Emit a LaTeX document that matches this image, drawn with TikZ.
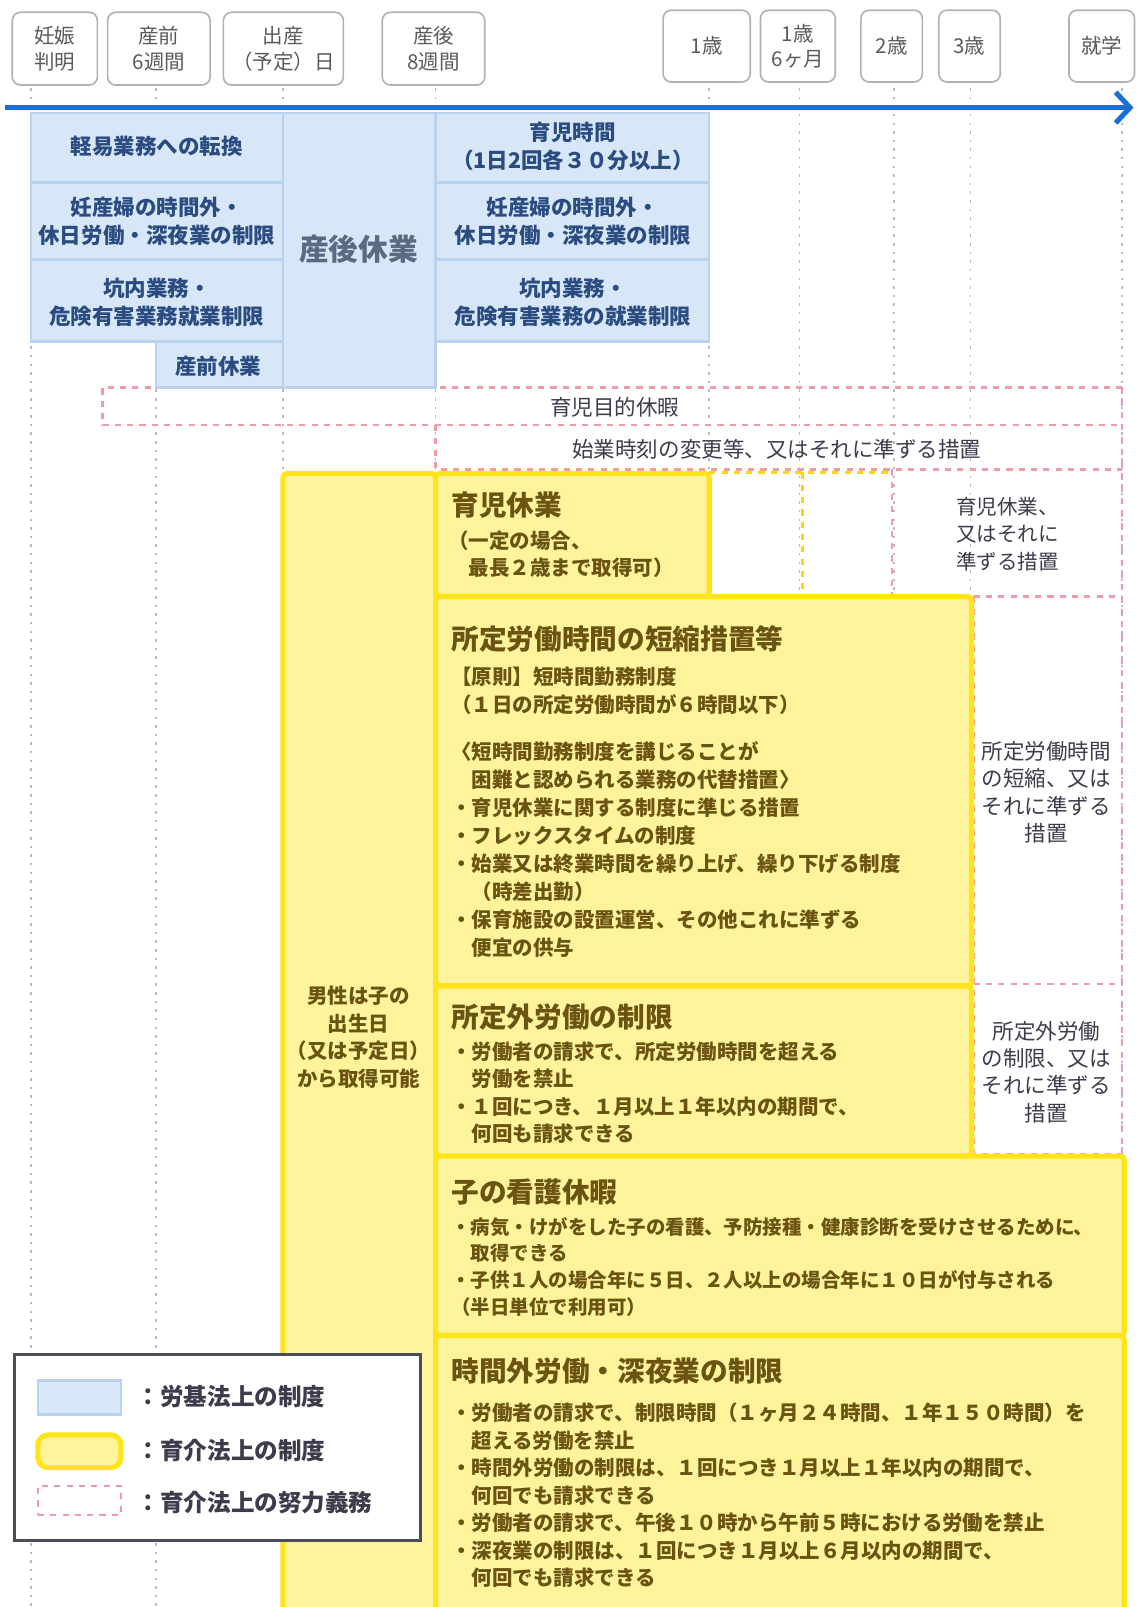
\documentclass[tikz,border=0pt]{standalone}
\usepackage{fontspec}
\setmainfont{Noto Sans CJK JP}
\usetikzlibrary{arrows.meta,fit}
\definecolor{bfill}{HTML}{D7E7F7}
\definecolor{bline}{HTML}{B9D2EE}
\definecolor{btext}{HTML}{2B4C80}
\definecolor{bgray}{HTML}{5A6A82}
\definecolor{yfill}{HTML}{FFF49C}
\definecolor{yline}{HTML}{FFE41A}
\definecolor{ytext}{HTML}{6B5312}
\definecolor{pinkc}{HTML}{F09CA8}
\definecolor{ptext}{HTML}{3C3C4C}
\definecolor{arrowblue}{HTML}{1B6FD2}
\definecolor{tgray}{HTML}{5A5A5A}
\definecolor{lgray}{HTML}{4A4D5A}
\tikzset{
  tickline/.style={gray!55, line width=0.8pt, dash pattern=on 1.2pt off 3pt},
  pinkdash/.style={pinkc, line width=1.1pt, dash pattern=on 3pt off 3pt},
  ydash/.style={yline!85!orange, line width=1.1pt, dash pattern=on 3pt off 3pt},
  bcell/.style={fill=bfill, draw=bline, line width=1.2pt, inner sep=0pt},
  ycell/.style={fill=yfill, draw=yline, line width=2.5pt, rounded corners=2pt, inner sep=0pt},
  topbox/.style={draw=gray!60, line width=0.8pt, rounded corners=4pt, fill=white, inner sep=0pt},
  toptxt/.style={text=tgray, font=\fontsize{10}{12.5}\selectfont, align=center, inner sep=0pt},
  btxt/.style={text=btext, font=\bfseries\fontsize{10.5}{13.5}\selectfont, align=center, inner sep=0pt},
  ytitle/.style={text=ytext, font=\bfseries\fontsize{13.5}{16}\selectfont, anchor=west, inner sep=0pt},
  ybody/.style={text=ytext, font=\bfseries\fontsize{10}{13.4}\selectfont, align=left, anchor=west, inner sep=0pt},
  ptxt/.style={text=ptext, font=\fontsize{10}{13.3}\selectfont, align=center, inner sep=0pt},
  legtxt/.style={text=ptext, font=\bfseries\fontsize{11.5}{14}\selectfont, anchor=west, inner sep=0pt},
}
\begin{document}
\begin{tikzpicture}[x=0.5pt,y=-0.5pt]
\useasboundingbox (0,0) rectangle (1109,1568);
\fill[white] (0,0) rectangle (1109,1568);
\clip (0,0) rectangle (1109,1568);

% dotted time ticks
\foreach \x in {30,152,276,425,692,780,872,947,1095}
  \draw[tickline] (\x,86) -- (\x,1568);

% pink dashed (effort obligations)
\draw[pinkdash] (1095,378) -- (100,378) -- (100,415) -- (1095,415);
\draw[pinkdash] (1095,378) -- (1095,1126);
\draw[pinkdash] (425,415) -- (425,458) -- (1095,458);
\draw[pinkdash] (870,458) -- (870,582) -- (1095,582);
\draw[pinkdash] (950,582) -- (950,1126) -- (1095,1126);
\draw[pinkdash] (950,960) -- (1095,960);
\draw[ydash] (692,461) -- (870,461);
\draw[ydash] (783,461) -- (783,582);

\node[ptxt, font=\fontsize{10.5}{13.3}\selectfont] (p1) at (600,397) {育児目的休暇};
\node[ptxt, font=\fontsize{10.5}{13.3}\selectfont] (p2) at (758,438) {始業時刻の変更等、又はそれに準ずる措置};
\node[ptxt] (p3) at (983,521) {育児休業、\\又はそれに\\準ずる措置};
\node[ptxt, font=\fontsize{10.5}{13.4}\selectfont] (p4) at (1021,773) {所定労働時間\\の短縮、又は\\それに準ずる\\措置};
\node[ptxt, font=\fontsize{10.5}{13.4}\selectfont] (p5) at (1021,1046) {所定外労働\\の制限、又は\\それに準ずる\\措置};

% blue cells (Labor Standards Act)
\node[bcell, fit={(30,110)(276,178)}] (b11) {};
\node[bcell, fit={(30,178)(276,253)}] (b12) {};
\node[bcell, fit={(30,253)(276,333)}] (b13) {};
\node[bcell, fit={(152,333)(276,378)}] (b14) {};
\node[bcell, fit={(276,110)(425,378)}] (b2) {};
\node[bcell, fit={(425,110)(692,178)}] (b31) {};
\node[bcell, fit={(425,178)(692,253)}] (b32) {};
\node[bcell, fit={(425,253)(692,333)}] (b33) {};

\node[btxt] (tb11) at (153,143) {軽易業務への転換};
\node[btxt] (tb12) at (153,216) {妊産婦の時間外・\\休日労働・深夜業の制限};
\node[btxt] (tb13) at (153,295) {坑内業務・\\危険有害業務就業制限};
\node[btxt] (tb14) at (213,357) {産前休業};
\node[btxt, text=bgray, font=\bfseries\fontsize{14.5}{16}\selectfont] (tb2) at (350,243) {産後休業};
\node[btxt] (tb31) at (559,143) {育児時間\\（1日2回各３０分以上）};
\node[btxt] (tb32) at (559,216) {妊産婦の時間外・\\休日労働・深夜業の制限};
\node[btxt] (tb33) at (559,295) {坑内業務・\\危険有害業務の就業制限};

% yellow cells (Childcare and Family Care Leave Act)
\node[ycell, fit={(276,462)(425,1590)}] (ycol) {};
\node[ycell, fit={(425,462)(692,582)}] (y1) {};
\node[ycell, fit={(425,582)(948,962)}] (y2) {};
\node[ycell, fit={(425,962)(948,1128)}] (y3) {};
\node[ycell, fit={(425,1128)(1097,1303)}] (y4) {};
\node[ycell, fit={(425,1303)(1097,1590)}] (y5) {};

\node[ybody, anchor=center, align=center] (tcol) at (350,1012) {男性は子の\\出生日\\（又は予定日）\\から取得可能};

\node[ytitle] (t1) at (440,493) {育児休業};
\node[ybody] (t1b) at (437,541) {（一定の場合、\\　最長２歳まで取得可）};

\node[ytitle] (t2) at (440,623) {所定労働時間の短縮措置等};
\node[ybody] (t2a) at (440,674) {【原則】短時間勤務制度\\（１日の所定労働時間が６時間以下）};
\node[ybody, font=\bfseries\fontsize{10}{13.7}\selectfont] (t2b) at (440,829) {〈短時間勤務制度を講じることが\\　困難と認められる業務の代替措置〉\\・育児休業に関する制度に準じる措置\\・フレックスタイムの制度\\・始業又は終業時間を繰り上げ、繰り下げる制度\\　（時差出勤）\\・保育施設の設置運営、その他これに準ずる\\　便宜の供与};

\node[ytitle] (t3) at (440,992) {所定外労働の制限};
\node[ybody] (t3b) at (440,1066) {・労働者の請求で、所定労働時間を超える\\　労働を禁止\\・１回につき、１月以上１年以内の期間で、\\　何回も請求できる};

\node[ytitle] (t4) at (440,1163) {子の看護休暇};
\node[ybody, font=\bfseries\fontsize{9.5}{13}\selectfont] (t4b) at (440,1236) {・病気・けがをした子の看護、予防接種・健康診断を受けさせるために、\\　取得できる\\・子供１人の場合年に５日、２人以上の場合年に１０日が付与される\\（半日単位で利用可）};

\node[ytitle] (t5) at (440,1338) {時間外労働・深夜業の制限};
\node[ybody] (t5b) at (440,1459) {・労働者の請求で、制限時間（１ヶ月２４時間、１年１５０時間）を\\　超える労働を禁止\\・時間外労働の制限は、１回につき１月以上１年以内の期間で、\\　何回でも請求できる\\・労働者の請求で、午後１０時から午前５時における労働を禁止\\・深夜業の制限は、１回につき１月以上６月以内の期間で、\\　何回でも請求できる};

% legend
\node[draw=lgray, line width=1.5pt, fill=white, inner sep=0pt, fit={(14,1322)(410,1503)}] (leg) {};
\node[bcell, fit={(37,1347)(118,1380)}] (lg1) {};
\node[ycell, rounded corners=5pt, fit={(37,1400)(118,1432)}] (lg2) {};
\node[pinkdash, draw, inner sep=0pt, fit={(37,1450)(118,1478)}] (lg3) {};
\node[legtxt] (lt1) at (133,1363) {：労基法上の制度};
\node[legtxt] (lt2) at (133,1415) {：育介法上の制度};
\node[legtxt] (lt3) at (133,1466) {：育介法上の努力義務};

% timeline header
\node[topbox, fit={(12,12)(95,83)}] (h1) {};
\node[toptxt] (th1) at (h1) {妊娠\\判明};
\node[topbox, fit={(105,12)(205,83)}] (h2) {};
\node[toptxt] (th2) at (h2) {産前\\6週間};
\node[topbox, fit={(218,12)(335,83)}] (h3) {};
\node[toptxt] (th3) at (h3) {出産\\（予定）日};
\node[topbox, fit={(373,12)(473,83)}] (h4) {};
\node[toptxt] (th4) at (h4) {産後\\8週間};
\node[topbox, fit={(647,10)(732,80)}] (h5) {};
\node[toptxt] (th5) at (h5) {1歳};
\node[topbox, fit={(742,10)(815,80)}] (h6) {};
\node[toptxt] (th6) at (h6) {1歳\\6ヶ月};
\node[topbox, fit={(840,10)(900,80)}] (h7) {};
\node[toptxt] (th7) at (h7) {2歳};
\node[topbox, fit={(916,10)(976,80)}] (h8) {};
\node[toptxt] (th8) at (h8) {3歳};
\node[topbox, fit={(1043,10)(1107,80)}] (h9) {};
\node[toptxt] (th9) at (h9) {就学};

\coordinate (as) at (5,105);
\coordinate (ae) at (1106,105);
\draw[arrowblue, line width=2.5pt, -{Straight Barb[length=7pt,width=15pt]}] (as) -- (ae);
\end{tikzpicture}
\end{document}
